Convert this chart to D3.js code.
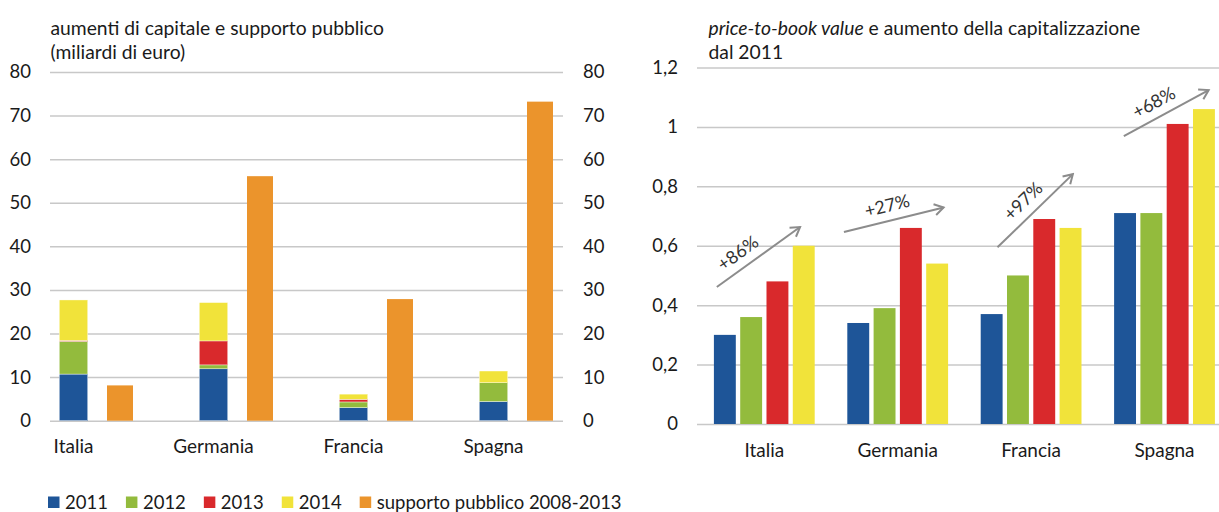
<!DOCTYPE html>
<html>
<head>
<meta charset="utf-8">
<script src="https://cdn.jsdelivr.net/npm/d3@7"></script>
<style>
  html, body { margin: 0; padding: 0; background: #fff; }
  svg { display: block; font-family: Lato, "Open Sans", sans-serif; }
</style>
</head>
<body>
<svg id="chart" width="1219" height="512"></svg>
<script>
// ---------------- DATA ----------------
const categories = ["Italia", "Germania", "Francia", "Spagna"];
const years = ["2011", "2012", "2013", "2014"];

// left panel: capital increases (billion euro), stacked by year
const capital2011 = [10.7, 11.9, 3.0, 4.4];
const capital2012 = [7.5, 0.9, 1.3, 4.3];
const capital2013 = [0.2, 5.5, 0.6, 0.0];
const capital2014 = [9.3, 8.8, 1.2, 2.7];
// public support 2008-2013
const publicSupport = [8.1, 56.1, 27.9, 73.2];
const leftTicks = [0, 10, 20, 30, 40, 50, 60, 70, 80];

// right panel: price-to-book value
const pbv2011 = [0.30, 0.34, 0.37, 0.71];
const pbv2012 = [0.36, 0.39, 0.50, 0.71];
const pbv2013 = [0.48, 0.66, 0.69, 1.01];
const pbv2014 = [0.60, 0.54, 0.66, 1.06];
const rightTicks = [0, 0.2, 0.4, 0.6, 0.8, 1.0, 1.2];

// capitalisation increase annotations (arrow from/to in p/bv units)
const capIncreaseLabels = ["+86%", "+27%", "+97%", "+68%"];
const arrowFromValue = [0.461, 0.646, 0.595, 0.969];
const arrowToValue = [0.663, 0.729, 0.841, 1.124];

const legendLabels = ["2011", "2012", "2013", "2014", "supporto pubblico 2008-2013"];

// ---------------- STYLE ----------------
const yearColors = ["#1e5598", "#93bb3d", "#d9292c", "#f1e33a"];
const supportColor = "#eb942c";
const gridColor = "#c8c8c8";
const textColor = "#1a1a1a";
const arrowColor = "#8c8c8c";
const itFormat = d3.formatLocale({decimal: ",", thousands: ".", grouping: [3], currency: ["", "€"]}).format(".1~f");

const svg = d3.select("#chart");

// ================= LEFT PANEL =================
const L = {left: 50, right: 563, top: 72, bottom: 420.7};
const yL = d3.scaleLinear().domain([0, 80]).range([L.bottom, L.top]);
const xL = d3.scaleBand().domain(categories).range([3.5, 563.5]);
const stackW = 28.5, stackOff = -14.25, supW = 26, supOff = 33.5;

const gL = svg.append("g");
// grid + left axis
const axL = gL.append("g").attr("transform", `translate(${L.left},0)`)
  .call(d3.axisLeft(yL).tickValues(leftTicks).tickSize(-(L.right - L.left)).tickPadding(19).tickFormat(itFormat));
axL.select(".domain").remove();
axL.selectAll(".tick line").attr("stroke", gridColor).attr("stroke-width", 1.5);
axL.selectAll(".tick text").attr("fill", textColor).style("font-size", "18.5px").style("font-family", "Lato");
// right axis (labels only)
const axL2 = gL.append("g").attr("transform", `translate(${L.right},0)`)
  .call(d3.axisRight(yL).tickValues(leftTicks).tickSize(0).tickPadding(20).tickFormat(itFormat));
axL2.select(".domain").remove();
axL2.selectAll(".tick text").attr("fill", textColor).style("font-size", "18.5px").style("font-family", "Lato");

// stacked bars
const capRows = categories.map((c, i) => ({cat: c, "2011": capital2011[i], "2012": capital2012[i], "2013": capital2013[i], "2014": capital2014[i]}));
const stacked = d3.stack().keys(years)(capRows);
gL.append("g").selectAll("g").data(stacked).join("g")
  .attr("fill", (d, i) => yearColors[i])
  .selectAll("rect").data(d => d.filter(s => s[1] - s[0] > 0)).join("rect")
  .attr("x", d => xL(d.data.cat) + xL.bandwidth() / 2 + stackOff)
  .attr("width", stackW)
  .attr("y", d => yL(d[1]))
  .attr("height", d => yL(d[0]) - yL(d[1]))
  .attr("stroke", "#fff").attr("stroke-width", 0.4);
// public support bars
gL.append("g").selectAll("rect").data(categories).join("rect")
  .attr("fill", supportColor)
  .attr("x", c => xL(c) + xL.bandwidth() / 2 + supOff)
  .attr("width", supW)
  .attr("y", (c, i) => yL(publicSupport[i]))
  .attr("height", (c, i) => yL(0) - yL(publicSupport[i]));
// category labels
const axLb = gL.append("g").attr("transform", `translate(0,${L.bottom})`)
  .call(d3.axisBottom(xL).tickSize(0).tickPadding(18.5));
axLb.select(".domain").remove();
axLb.selectAll(".tick text").attr("fill", textColor).style("font-size", "19px").style("font-family", "Lato");
// title
const tL = gL.append("text").attr("x", 50.5).attr("fill", textColor).style("font-size", "19.3px");
tL.append("tspan").attr("x", 50.5).attr("y", 35).text("aumenti di capitale e supporto pubblico");
tL.append("tspan").attr("x", 50.5).attr("y", 59).text("(miliardi di euro)");

// legend
let lx = 48;
const lg = svg.append("g");
legendLabels.forEach((lab, i) => {
  lg.append("rect").attr("x", lx).attr("y", 496.5).attr("width", 11.5).attr("height", 11.5)
    .attr("fill", i < 4 ? yearColors[i] : supportColor);
  const t = lg.append("text").attr("x", lx + 17).attr("y", 508.5).attr("fill", textColor)
    .style("font-size", "18.5px").text(lab);
  lx += 17 + t.node().getComputedTextLength() + 18;
});

// ================= RIGHT PANEL =================
const R = {left: 697, right: 1219, top: 67.5, bottom: 424};
const yR = d3.scaleLinear().domain([0, 1.2]).range([R.bottom, R.top]);
const xR = d3.scaleBand().domain(categories).range([697.6, 1231.2]);
const xR1 = d3.scaleBand().domain(years).range([0, xR.bandwidth()]).paddingInner(0.167).paddingOuter(0.62);

const gR = svg.append("g");
const axR = gR.append("g").attr("transform", `translate(${R.left},0)`)
  .call(d3.axisLeft(yR).tickValues(rightTicks).tickSize(-(R.right - R.left)).tickPadding(19).tickFormat(itFormat));
axR.select(".domain").remove();
axR.selectAll(".tick line").attr("stroke", gridColor).attr("stroke-width", 1.5);
axR.selectAll(".tick text").attr("fill", textColor).style("font-size", "18.5px").style("font-family", "Lato");

const pbvSeries = [pbv2011, pbv2012, pbv2013, pbv2014];
gR.append("g").selectAll("g").data(categories).join("g")
  .attr("transform", c => `translate(${xR(c)},0)`)
  .selectAll("rect").data((c, ci) => years.map((y, yi) => ({y, yi, v: pbvSeries[yi][ci]}))).join("rect")
  .attr("x", d => xR1(d.y))
  .attr("width", xR1.bandwidth())
  .attr("y", d => yR(d.v))
  .attr("height", d => yR(0) - yR(d.v))
  .attr("fill", d => yearColors[d.yi]);

const axRb = gR.append("g").attr("transform", `translate(0,${R.bottom})`)
  .call(d3.axisBottom(xR).tickSize(0).tickPadding(19.5));
axRb.select(".domain").remove();
axRb.selectAll(".tick text").attr("fill", textColor).style("font-size", "19px").style("font-family", "Lato");

const tR = gR.append("text").attr("fill", textColor).style("font-size", "19.3px");
const l1 = tR.append("tspan").attr("x", 708.5).attr("y", 35);
l1.append("tspan").style("font-style", "italic").text("price-to-book value");
l1.append("tspan").text(" e aumento della capitalizzazione");
tR.append("tspan").attr("x", 708.5).attr("y", 59).text("dal 2011");

// arrows
const defs = svg.append("defs");
defs.append("marker").attr("id", "ah").attr("markerUnits", "userSpaceOnUse")
  .attr("viewBox", "-12 -7 14 14").attr("refX", 0).attr("refY", 0)
  .attr("markerWidth", 14).attr("markerHeight", 14).attr("orient", "auto")
  .append("path").attr("d", "M-9,-5.5 L0,0 L-9,5.5").attr("fill", "none")
  .attr("stroke", arrowColor).attr("stroke-width", 2).attr("stroke-linejoin", "miter");

const arrowXFrom = [0.144, 0.097, 0.248, 0.195]; // fraction of category band
const arrowXTo = [0.768, 0.844, 0.813, 0.831];
const labelT = [0.36, 0.47, 0.48, 0.44];
const ga = gR.append("g");
categories.forEach((c, i) => {
  const x1 = xR(c) + arrowXFrom[i] * xR.bandwidth(), y1 = yR(arrowFromValue[i]);
  const x2 = xR(c) + arrowXTo[i] * xR.bandwidth(), y2 = yR(arrowToValue[i]);
  ga.append("line").attr("x1", x1).attr("y1", y1).attr("x2", x2).attr("y2", y2)
    .attr("stroke", arrowColor).attr("stroke-width", 2).attr("marker-end", "url(#ah)");
  const len = Math.hypot(x2 - x1, y2 - y1);
  const ux = (x2 - x1) / len, uy = (y2 - y1) / len;
  const along = labelT[i] * len, perp = 16;
  const lxp = x1 + ux * along + uy * perp, lyp = y1 + uy * along - ux * perp;
  const ang = Math.atan2(y2 - y1, x2 - x1) * 180 / Math.PI;
  ga.append("text").attr("transform", `translate(${lxp},${lyp}) rotate(${ang})`)
    .attr("text-anchor", "middle").attr("dominant-baseline", "central")
    .attr("fill", "#333").style("font-size", "18px").text(capIncreaseLabels[i]);
});
</script>
</body>
</html>
